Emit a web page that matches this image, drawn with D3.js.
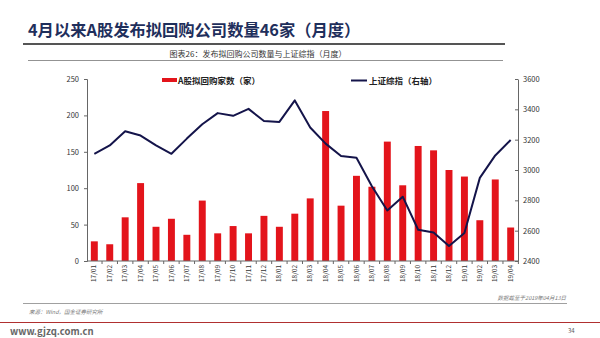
<!DOCTYPE html>
<html>
<head>
<meta charset="utf-8">
<script src="https://cdn.jsdelivr.net/npm/d3@7/dist/d3.min.js"></script>
<style>
  html, body { margin: 0; padding: 0; background: #fff; }
  svg { display: block; }
  text { font-family: "Noto Sans CJK SC", "Noto Sans", sans-serif; }
</style>
</head>
<body>
<svg id="chart" width="600" height="338"></svg>
<script>
// Months (category axis)
const months = ["17/01","17/02","17/03","17/04","17/05","17/06","17/07","17/08","17/09","17/10","17/11","17/12",
                "18/01","18/02","18/03","18/04","18/05","18/06","18/07","18/08","18/09","18/10","18/11","18/12",
                "19/01","19/02","19/03","19/04"];
// A-share companies announcing planned buybacks (count, left axis)
const buybackCounts = [27, 23, 60, 107, 47, 58, 36, 83, 38, 48, 38, 62,
                       47, 65, 86, 206, 76, 117, 102, 164, 104, 158, 152, 125,
                       116, 56, 112, 46];
// Shanghai Composite Index (monthly, right axis)
const shIndex = [3107, 3162, 3255, 3227, 3162, 3107, 3207, 3302, 3375, 3357, 3403, 3323,
                 3317, 3459, 3280, 3174, 3092, 3081, 2893, 2733, 2824, 2606, 2588, 2499,
                 2584, 2948, 3096, 3198];
const leftTicks = [0, 50, 100, 150, 200, 250];
const rightTicks = [2400, 2600, 2800, 3000, 3200, 3400, 3600];

const svg = d3.select("#chart");
const plot = { left: 87, right: 518, top: 79, bottom: 261 };

// Page header
svg.append("text").attr("x", 28).attr("y", 36)
  .attr("font-size", 16.3).attr("font-weight", 700).attr("fill", "#1f2f5c")
  .text("4月以来A股发布拟回购公司数量46家（月度）");
svg.append("line").attr("x1", 23).attr("x2", 505).attr("y1", 44).attr("y2", 44)
  .attr("stroke", "#555").attr("stroke-width", 2);
svg.append("text").attr("x", 258).attr("y", 56.5).attr("text-anchor", "middle")
  .attr("font-size", 8).attr("fill", "#333")
  .text("图表26：发布拟回购公司数量与上证综指（月度）");
svg.append("line").attr("x1", 28).attr("x2", 503).attr("y1", 60.5).attr("y2", 60.5)
  .attr("stroke", "#777").attr("stroke-width", 0.8);

// Scales
const x = d3.scaleBand().domain(months).range([plot.left, plot.right]).paddingInner(0.55).paddingOuter(0.25);
const yL = d3.scaleLinear().domain([0, 250]).range([plot.bottom, plot.top]);
const yR = d3.scaleLinear().domain([2400, 3600]).range([plot.bottom, plot.top]);

// Bars
svg.append("g").selectAll("rect").data(months).join("rect")
  .attr("x", d => x(d))
  .attr("width", x.bandwidth())
  .attr("y", (d, i) => yL(buybackCounts[i]))
  .attr("height", (d, i) => yL(0) - yL(buybackCounts[i]))
  .attr("fill", "#e3141b");

// Index line
const line = d3.line()
  .x((d, i) => x(months[i]) + x.bandwidth() / 2)
  .y(d => yR(d));
svg.append("path").datum(shIndex).attr("d", line)
  .attr("fill", "none").attr("stroke", "#14144a").attr("stroke-width", 2)
  .attr("stroke-linejoin", "round");

// Left axis
const axL = svg.append("g").attr("transform", `translate(${plot.left},0)`)
  .call(d3.axisLeft(yL).tickValues(leftTicks).tickFormat(d3.format("d")).tickSize(3).tickPadding(5));
// Right axis
const axR = svg.append("g").attr("transform", `translate(${plot.right},0)`)
  .call(d3.axisRight(yR).tickValues(rightTicks).tickFormat(d3.format("d")).tickSize(0).tickPadding(5));
axR.selectAll(".tick").append("line").attr("x1", -3).attr("x2", 0).attr("stroke", "#666");
// Bottom axis
const step = x.step();
const axB = svg.append("g").attr("transform", `translate(0,${plot.bottom})`)
  .call(d3.axisBottom(x).tickSize(0).tickPadding(3));
axB.selectAll(".tick").append("line")
  .attr("x1", step / 2).attr("x2", step / 2).attr("y1", 0).attr("y2", 3)
  .attr("stroke", "#666");
axB.selectAll(".tick text")
  .attr("transform", "rotate(-90)")
  .attr("text-anchor", "end")
  .attr("dy", "0.32em").attr("y", 0).attr("x", -4);

[axL, axR, axB].forEach(a => {
  a.selectAll(".domain").attr("stroke", "#666").attr("stroke-width", 1);
  a.selectAll(".tick line").attr("stroke", "#666");
  a.selectAll("text").attr("font-family", "Liberation Sans, Arial, sans-serif").attr("fill", "#333");
});
axL.selectAll("text").attr("font-size", 7.5);
axR.selectAll("text").attr("font-size", 7.5);
axB.selectAll("text").attr("font-size", 6.5);
axB.select(".domain").attr("d", `M${plot.left},0H${plot.right}`);

// Legend
svg.append("rect").attr("x", 162).attr("y", 78).attr("width", 15).attr("height", 4).attr("fill", "#e3141b");
svg.append("text").attr("x", 178).attr("y", 83.5).attr("font-size", 8.5).attr("font-weight", 700)
  .attr("fill", "#222").text("A股拟回购家数（家）");
svg.append("line").attr("x1", 351).attr("x2", 367).attr("y1", 80.5).attr("y2", 80.5)
  .attr("stroke", "#14144a").attr("stroke-width", 2);
svg.append("text").attr("x", 369).attr("y", 84).attr("font-size", 8.5).attr("font-weight", 700)
  .attr("fill", "#222").text("上证综指（右轴）");

// Footer notes
svg.append("text").attr("x", 566).attr("y", 300).attr("text-anchor", "end")
  .attr("font-size", 5.5).attr("font-style", "italic").attr("fill", "#777")
  .text("数据截至于2019年04月13日");
svg.append("line").attr("x1", 23).attr("x2", 567).attr("y1", 303.5).attr("y2", 303.5)
  .attr("stroke", "#888").attr("stroke-width", 0.8);
svg.append("text").attr("x", 29).attr("y", 314)
  .attr("font-size", 5.5).attr("font-style", "italic").attr("fill", "#777")
  .text("来源：Wind，国金证券研究所");
svg.append("line").attr("x1", 0).attr("x2", 600).attr("y1", 322.5).attr("y2", 322.5)
  .attr("stroke", "#b03030").attr("stroke-width", 1.2);
svg.append("text").attr("x", 10).attr("y", 335)
  .attr("font-family", "DejaVu Sans, sans-serif").attr("font-size", 9.5).attr("font-weight", 700)
  .attr("fill", "#666").text("www.gjzq.com.cn");
svg.append("text").attr("x", 568).attr("y", 333)
  .attr("font-size", 6).attr("fill", "#555").text("34");
</script>
</body>
</html>
